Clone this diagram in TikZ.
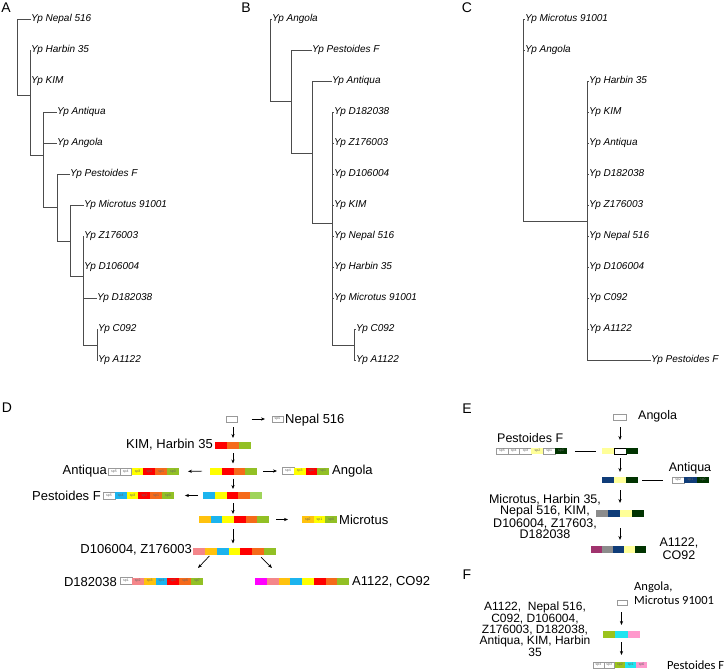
\documentclass[tikz,border=0pt]{standalone}
\usepackage{fontspec}
\setmainfont{Liberation Sans}
\newfontfamily\carl{Carlito}
\usetikzlibrary{arrows.meta,calc}
\definecolor{cred}{HTML}{FF0000}
\definecolor{corange}{HTML}{F56A1A}
\definecolor{cgreen}{HTML}{92C025}
\definecolor{clgreen}{HTML}{9FD45A}
\definecolor{cyellow}{HTML}{FFFF00}
\definecolor{cblue}{HTML}{1CB4EE}
\definecolor{cgold}{HTML}{FFC20E}
\definecolor{cpink}{HTML}{F4868A}
\definecolor{cmag}{HTML}{FF00FF}
\definecolor{epy}{HTML}{FFFF99}
\definecolor{edg}{HTML}{003300}
\definecolor{edb}{HTML}{0F3C78}
\definecolor{egr}{HTML}{8C8C8C}
\definecolor{edm}{HTML}{A0336E}
\definecolor{fgr}{HTML}{9BC31C}
\definecolor{fcy}{HTML}{22E4F0}
\definecolor{fpk}{HTML}{FF99CC}
\tikzset{
  leaf/.style={anchor=west, inner sep=0pt, font=\fontsize{10}{12}\selectfont\itshape},
  branch/.style={draw=black!70, line width=0.8pt},
  plab/.style={inner sep=0pt, font=\fontsize{14}{16}\selectfont},
  blk/.style={inner sep=0pt, outer sep=0pt, minimum height=7pt, anchor=west, text=black!60, font=\fontsize{3.5}{4}\selectfont},
  cW/.style={fill=white, draw=gray!80, line width=0.4pt},
  cWK/.style={fill=white, draw=black, line width=0.5pt},
  cR/.style={fill=cred}, cO/.style={fill=corange}, cG/.style={fill=cgreen},
  cLG/.style={fill=clgreen}, cY/.style={fill=cyellow}, cB/.style={fill=cblue},
  cAu/.style={fill=cgold}, cP/.style={fill=cpink}, cM/.style={fill=cmag},
  cPY/.style={fill=epy}, cDG/.style={fill=edg}, cDB/.style={fill=edb},
  cGR/.style={fill=egr}, cDM/.style={fill=edm},
  cFG/.style={fill=fgr}, cFC/.style={fill=fcy}, cFP/.style={fill=fpk},
  arr/.style={-{Stealth[length=4pt,width=3.2pt]}, line width=0.7pt, black},
  conn/.style={line width=0.6pt, black},
  dtxt/.style={inner sep=0pt, font=\fontsize{13}{15}\selectfont},
  etxt/.style={inner sep=0pt, font=\fontsize{12.5}{11}\selectfont},
  ftxt/.style={inner sep=0pt, font=\carl\fontsize{12.5}{14}\selectfont},
  fltxt/.style={inner sep=0pt, font=\fontsize{12}{9.7}\selectfont},
}
\newcommand{\cbar}[6][7]{%
  \foreach[count=\i] \s in {#6}{%
    \node[blk,\s,minimum width=#5,minimum height=#1] (#2-\i) at ({#3+(\i-1)*#5},#4) {};
  }}
\newcommand{\sbar}[6][7]{%
  \foreach[count=\i] \s/\t in {#6}{%
    \node[blk,\s,minimum width=#5,minimum height=#1] (#2-\i) at ({#3+(\i-1)*#5},#4) {\t};
  }}
\begin{document}
\begin{tikzpicture}[x=1pt,y=-1pt]
\useasboundingbox (0,0) rectangle (726,671);
% panel letters
\node[plab] (pA) at (6,8) {A};
\node[plab] (pB) at (246,8) {B};
\node[plab] (pC) at (467,8) {C};
\node[plab] (pD) at (7,408) {D};
\node[plab] (pE) at (467,409) {E};
\node[plab] (pF) at (467,575) {F};
% ---------------- tree A
\node[leaf] (a1) at (31,19) {Yp Nepal 516};
\node[leaf] (a2) at (31,50) {Yp Harbin 35};
\node[leaf] (a3) at (31,81) {Yp KIM};
\node[leaf] (a4) at (57,112) {Yp Antiqua};
\node[leaf] (a5) at (57,143) {Yp Angola};
\node[leaf] (a6) at (70,174) {Yp Pestoides F};
\node[leaf] (a7) at (84,205) {Yp Microtus 91001};
\node[leaf] (a8) at (84,236) {Yp Z176003};
\node[leaf] (a9) at (84,267) {Yp D106004};
\node[leaf] (a10) at (97,298) {Yp D182038};
\node[leaf] (a11) at (98,329) {Yp C092};
\node[leaf] (a12) at (98,360) {Yp A1122};
\coordinate (ar) at (17,95);
\coordinate (an2) at (30,95);
\coordinate (an3) at (43,155);
\coordinate (an4) at (57,207);
\coordinate (an5) at (70,241);
\coordinate (an6) at (83,276);
\coordinate (an7) at (97,345);
\draw[branch] (ar) |- (a1.west) (ar) -- (an2)
  (an2) |- (a2.west) (an2) |- (a3.west) (an2) |- (an3)
  (an3) |- (a4.west) (an3) |- (a5.west) (an3) |- (an4)
  (an4) |- (a6.west) (an4) |- (an5)
  (an5) |- (a7.west) (an5) |- (an6)
  (an6) |- (a8.west) (an6) |- (a9.west) (an6) |- (a10.west) (an6) |- (an7)
  (an7) |- (a11.west) (an7) |- (a12.west);
% ---------------- tree B
\node[leaf] (b1) at (272,19) {Yp Angola};
\node[leaf] (b2) at (312,50) {Yp Pestoides F};
\node[leaf] (b3) at (332,81) {Yp Antiqua};
\node[leaf] (b4) at (334,112) {Yp D182038};
\node[leaf] (b5) at (334,143) {Yp Z176003};
\node[leaf] (b6) at (334,174) {Yp D106004};
\node[leaf] (b7) at (334,205) {Yp KIM};
\node[leaf] (b8) at (334,236) {Yp Nepal 516};
\node[leaf] (b9) at (334,267) {Yp Harbin 35};
\node[leaf] (b10) at (334,298) {Yp Microtus 91001};
\node[leaf] (b11) at (356,329) {Yp C092};
\node[leaf] (b12) at (356,360) {Yp A1122};
\coordinate (br) at (270,101);
\coordinate (bn2) at (291,101);
\coordinate (bn3) at (312,153);
\coordinate (bn4) at (332,223);
\coordinate (bn5) at (354,345);
\draw[branch] (br) |- (b1.west) (br) -- (bn2)
  (bn2) |- (b2.west) (bn2) |- (bn3)
  (bn3) |- (b3.west) (bn3) |- (bn4)
  (bn4) |- (b4.west) (bn4) |- (b5.west) (bn4) |- (b6.west) (bn4) |- (b7.west)
  (bn4) |- (b8.west) (bn4) |- (b9.west) (bn4) |- (b10.west) (bn4) |- (bn5)
  (bn5) |- (b11.west) (bn5) |- (b12.west);
% ---------------- tree C
\node[leaf] (c1) at (525,19) {Yp Microtus 91001};
\node[leaf] (c2) at (525,50) {Yp Angola};
\node[leaf] (c3) at (589,81) {Yp Harbin 35};
\node[leaf] (c4) at (589,112) {Yp KIM};
\node[leaf] (c5) at (589,143) {Yp Antiqua};
\node[leaf] (c6) at (589,174) {Yp D182038};
\node[leaf] (c7) at (589,205) {Yp Z176003};
\node[leaf] (c8) at (589,236) {Yp Nepal 516};
\node[leaf] (c9) at (589,267) {Yp D106004};
\node[leaf] (c10) at (589,298) {Yp C092};
\node[leaf] (c11) at (589,329) {Yp A1122};
\node[leaf] (c12) at (651,360) {Yp Pestoides F};
\coordinate (cr) at (523,221);
\coordinate (cn2) at (587,221);
\draw[branch] (cr) |- (c1.west) (cr) |- (c2.west) (cr) -- (cn2)
  (cn2) |- (c3.west) (cn2) |- (c4.west) (cn2) |- (c5.west) (cn2) |- (c6.west)
  (cn2) |- (c7.west) (cn2) |- (c8.west) (cn2) |- (c9.west) (cn2) |- (c10.west)
  (cn2) |- (c11.west) (cn2) |- (c12.west);
% ---------------- panel D
\node[blk,cW,minimum width=11,minimum height=6] (dtop) at (226.5,419) {};
\sbar[6]{dnep}{272}{419}{11}{cW/sp0}
\node[dtxt,anchor=west] (dnept) at (285,420) {Nepal 516};
\cbar{dkim}{215}{445.5}{12}{cR,cO,cG}
\node[dtxt,anchor=east] (dkimt) at (213,445) {KIM, Harbin 35};
\cbar{dr3}{210}{471}{11.75}{cY,cR,cO,cG}
\sbar{dant}{108}{471.5}{11.83}{cW/sp5,cW/sp4,cY/sp3,cR/sp2,cO/sp1,cG/sp0}
\node[dtxt,anchor=east] (dantt) at (107,471) {Antiqua};
\sbar{dang}{282}{471}{11.75}{cW/sp4,cY/sp3,cR/sp2,cG/sp1}
\node[dtxt,anchor=west] (dangt) at (332,471) {Angola};
\cbar{dr4}{203}{495.5}{11.8}{cB,cY,cR,cO,cLG}
\sbar{dpes}{103}{495.5}{11.83}{cW/sp5,cB/sp4,cY/sp3,cR/sp2,cO/sp1,cG/sp0}
\node[dtxt,anchor=east] (dpest) at (101,496) {Pestoides F};
\cbar{dr5}{199}{519.5}{11.67}{cAu,cB,cY,cR,cO,cG}
\sbar{dmic}{302}{519.5}{11.67}{cAu/sp2,cY/sp1,cG/sp0}
\node[dtxt,anchor=west] (dmict) at (339,520) {Microtus};
\cbar{dr6}{193}{551}{11.86}{cP,cAu,cB,cY,cR,cO,cG}
\node[dtxt,anchor=east] (dr6t) at (192,550) {D106004, Z176003};
\sbar{dd18}{120}{581}{11.86}{cW/sp1,cP/sp2,cAu/sp3,cB/sp4,cR/sp5,cO/sp6,cG/sp7}
\node[dtxt,anchor=east] (dd18t) at (117,582) {D182038};
\cbar{dac}{255}{581}{11.75}{cM,cP,cAu,cB,cY,cR,cO,cG}
\node[dtxt,anchor=west] (dact) at (352,582) {A1122, CO92};
\coordinate (dl) at (198,568);
\coordinate (dr) at (272,568);
\draw[arr,shorten <=14pt,shorten >=7pt] (dtop.east) -- (dnep-1.west);
\draw[arr,shorten <=5pt,shorten >=4pt] (dkim-2.north |- dtop.south) -- (dkim-2.north);
\draw[arr,shorten <=4pt,shorten >=4pt] (dkim-2.south) -- (dkim-2.south |- dr3-1.north);
\draw[arr,shorten <=4pt,shorten >=3pt] (dkim-2.south |- dr3-1.south) -- (dkim-2.south |- dr4-1.north);
\draw[arr,shorten <=4pt,shorten >=2pt] (dkim-2.south |- dr4-1.south) -- (dkim-2.south |- dr5-1.north);
\draw[arr,shorten <=6pt,shorten >=4pt] (dkim-2.south |- dr5-1.south) -- (dkim-2.south |- dr6-1.north);
\draw[arr,shorten <=8pt,shorten >=9pt] (dr3-1.west) -- (dant-6.east);
\draw[arr,shorten <=6pt,shorten >=5pt] (dr3-4.east) -- (dang-1.west);
\draw[arr,shorten <=5pt,shorten >=11pt] (dr4-1.west) -- (dpes-6.east);
\draw[arr,shorten <=7pt,shorten >=14pt] (dr5-6.east) -- (dmic-1.west);
\draw[arr,shorten <=2pt] (dr6-2.south) -- (dl);
\draw[arr,shorten <=4pt] (dr6-6.south) -- (dr);
% ---------------- panel E
\node[blk,cW,minimum width=13,minimum height=6] (etop) at (613,417) {};
\node[etxt,anchor=west] (etopt) at (638,416) {Angola};
\cbar[6]{e1}{602}{451}{12}{cPY,cWK,cDG}
\sbar[6]{ep}{496}{451}{11.83}{cW/sp5,cW/sp4,cW/sp3,cPY/sp2,cW/sp1,cDG/sp0}
\node[etxt,anchor=west] (ept) at (497,438) {Pestoides F};
\draw[conn,shorten <=8pt,shorten >=6pt] (ep-6.east) -- (e1-1.west);
\draw[arr,shorten <=7pt,shorten >=8pt] (e1-2.north |- etop.south) -- (e1-2.north);
\cbar[6]{e2}{602}{480}{12}{cDB,cPY,cDG}
\draw[arr,shorten <=4pt,shorten >=5pt] (e1-2.south) -- (e2-2.north);
\sbar[6]{ea}{672}{480}{12.33}{cW/sp2,cDB/sp1,cDG/sp0}
\node[etxt] (eat) at (690,468) {Antiqua};
\draw[conn,shorten <=4pt,shorten >=9pt] (e2-3.east) -- (ea-1.west);
\cbar{e3}{596}{513}{12}{cGR,cDB,cPY,cDG}
\draw[arr,shorten <=7pt,shorten >=6.5pt] (e2-2.south) -- (e2-2.south |- e3-1.north);
\node[etxt,align=center] (e3t) at (545,516.5) {Microtus, Harbin 35,\\Nepal 516, KIM,\\D106004, Z17603,\\D182038};
\cbar{e4}{591}{549}{11}{cDM,cGR,cDB,cPY,cDG}
\draw[arr,shorten <=11.5pt,shorten >=5.5pt] (e2-2.south |- e3-1.south) -- (e2-2.south |- e4-1.north);
\node[etxt,align=center,font=\fontsize{12.5}{13}\selectfont] (e4t) at (679,548.5) {A1122,\\CO92};
% ---------------- panel F
\node[blk,cW,minimum width=10,minimum height=5] (ftop) at (617,602.5) {};
\node[ftxt,anchor=west,align=left] (ftopt) at (634,593) {Angola,\\Microtus 91001};
\cbar{f1}{603}{634.5}{12.33}{cFG,cFC,cFP}
\draw[arr,shorten <=7pt,shorten >=6pt] (f1-2.north |- ftop.south) -- (f1-2.north);
\sbar[6]{f2}{593}{665}{10.8}{cW/sp4,cW/sp3,cFG/sp2,cFC/sp1,cFP/sp0}
\draw[arr,shorten <=4pt,shorten >=7pt] (f1-2.south) -- (f1-2.south |- f2-1.north);
\node[ftxt,anchor=west] (f2t) at (667,665) {Pestoides F};
\node[fltxt,align=center] (flt) at (535,629.5) {A1122,\ \ Nepal 516,\\C092, D106004,\\Z176003, D182038,\\Antiqua, KIM, Harbin\\35};
\end{tikzpicture}
\end{document}
